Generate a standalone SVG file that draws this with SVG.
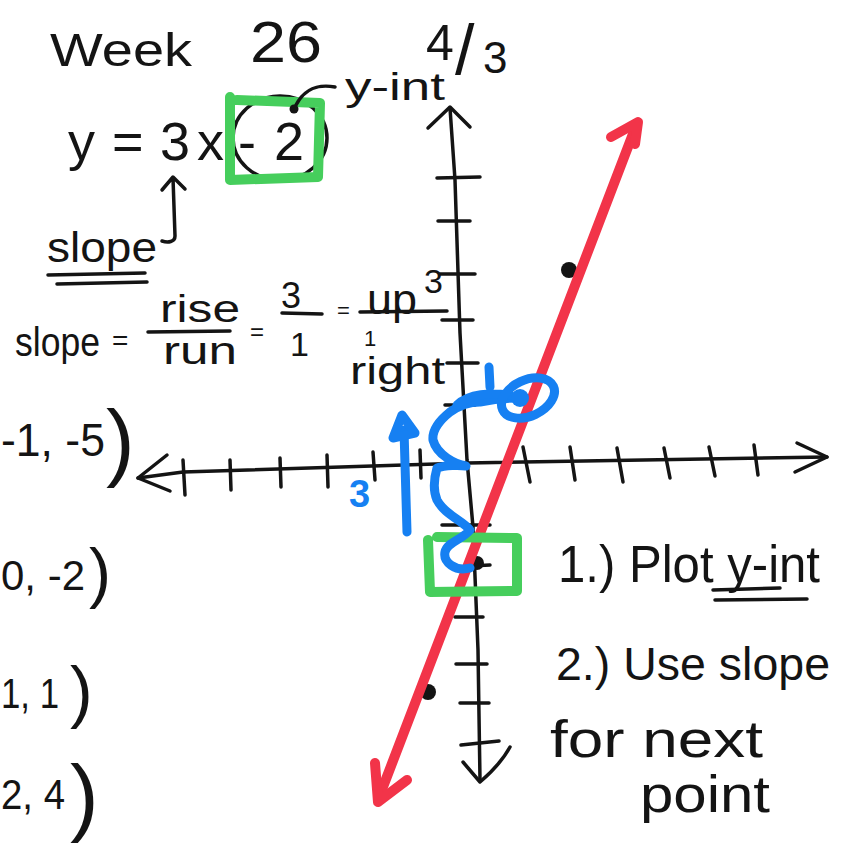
<svg xmlns="http://www.w3.org/2000/svg" width="851" height="846" viewBox="0 0 851 846">
<style>
.ink{stroke:#141414;stroke-width:3.5;fill:none;stroke-linecap:round;stroke-linejoin:round}
.red{stroke:#F23449;stroke-width:10;fill:none;stroke-linecap:round;stroke-linejoin:round}
.green{stroke:#46CE5C;stroke-width:10;fill:none;stroke-linecap:round;stroke-linejoin:round}
.blue{stroke:#1680F2;stroke-width:9;fill:none;stroke-linecap:round;stroke-linejoin:round}
text{font-family:"Liberation Sans",Arial,sans-serif;fill:#141414}
.dot{fill:#141414}
</style>
<rect width="851" height="846" fill="#ffffff"/>

<g id="title">
<text x="50" y="66" font-size="46" textLength="142" lengthAdjust="spacingAndGlyphs">Week</text>
<text x="250" y="62" font-size="58" textLength="72" lengthAdjust="spacingAndGlyphs">26</text>
<text font-size="50"><tspan x="426" y="60">4</tspan><tspan x="455" y="74" font-size="70">/</tspan><tspan x="483" y="73" font-size="44">3</tspan></text>
</g>

<g id="equation">
<ellipse cx="280" cy="138" rx="47" ry="42" class="ink"/>
<text font-size="54"><tspan x="68" y="160">y </tspan><tspan x="112" y="160">= </tspan><tspan x="160" y="160">3</tspan><tspan x="197" y="160">x</tspan><tspan x="238" y="160">-</tspan><tspan x="274" y="160">2</tspan></text>
<path d="M230 97 L230 180 L318 177 L320 103 L237 100" class="green"/>
<text x="345" y="100" font-size="38" textLength="100" lengthAdjust="spacingAndGlyphs">y-int</text>
<path d="M335 87 C318 84 305 88 296 105" class="ink"/>
<circle cx="294" cy="109" r="4.5" class="dot"/>
</g>

<g id="slope-label">
<path d="M162 190 L173 177 L185 189 M173 178 L175 236 C175 242 168 243 162 241" class="ink"/>
<text x="47" y="262" font-size="42" textLength="110" lengthAdjust="spacingAndGlyphs">slope</text>
<path d="M48 275 L145 273 M57 284 L147 282" class="ink" stroke-width="3"/>
</g>

<g id="slope-formula">
<text x="15" y="356" font-size="40" textLength="85" lengthAdjust="spacingAndGlyphs">slope</text>
<text x="112" y="350" font-size="28">=</text>
<text x="160" y="322" font-size="38" textLength="80" lengthAdjust="spacingAndGlyphs">rise</text>
<path d="M148 332 L230 331" class="ink"/>
<text x="163" y="364" font-size="38" textLength="74" lengthAdjust="spacingAndGlyphs">run</text>
<text x="250" y="340" font-size="24">=</text>
<text x="281" y="308" font-size="36">3</text>
<path d="M282 313 L322 314" class="ink"/>
<text x="290" y="356" font-size="34">1</text>
<text x="337" y="318" font-size="22">=</text>
<text x="367" y="314" font-size="42" textLength="50" lengthAdjust="spacingAndGlyphs">up</text>
<text x="424" y="293" font-size="34">3</text>
<path d="M360 312 L447 311" class="ink"/>
<text x="364" y="346" font-size="22">1</text>
<text x="350" y="384" font-size="38" textLength="95" lengthAdjust="spacingAndGlyphs">right</text>
</g>

<g id="points-list">
<text x="1" y="456" font-size="46" textLength="104" lengthAdjust="spacingAndGlyphs">-1, -5</text>
<text x="106" y="470" font-size="86">)</text>
<text x="1" y="590" font-size="42" textLength="84" lengthAdjust="spacingAndGlyphs">0, -2</text>
<text x="89" y="595" font-size="66">)</text>
<text x="1" y="708" font-size="42" textLength="58" lengthAdjust="spacingAndGlyphs">1, 1</text>
<text x="70" y="715" font-size="68">)</text>
<text x="1" y="809" font-size="42" textLength="64" lengthAdjust="spacingAndGlyphs">2, 4</text>
<text x="70" y="825" font-size="86">)</text>
</g>

<g id="axes">
<path d="M450 108 L455 180 L460 333 L467 460 L473 527 L478 650 L480 780" class="ink"/>
<path d="M428 128 L450 107 L470 127" class="ink"/>
<path d="M463 762 L480 782 Q500 765 510 747" class="ink"/>
<path d="M138 478 L183 472 L467 463 L827 457" class="ink"/>
<path d="M167 455 L138 478 L170 491" class="ink"/>
<path d="M797 443 L827 457 L795 472" class="ink"/>
<path d="M437 178 L480 177 M438 221 L470 221 M440 274 L475 274 M442 320 L473 320 M447 363 L478 363 M445 405 L475 405 M442 525 L490 525 M470 566 L490 565 M455 617 L483 617 M456 664 L487 664 M460 703 L489 703 M461 745 L499 741" class="ink"/>
<path d="M183 460 L185 495 M230 460 L231 490 M280 458 L281 487 M327 455 L328 487 M373 452 L375 480 M420 450 L421 478" class="ink"/>
<path d="M523 447 L530 482 M570 447 L575 480 M617 448 L623 482 M664 448 L670 478 M709 447 L715 476 M754 445 L758 475" class="ink"/>
</g>

<g id="plotted-points">
<circle cx="569" cy="270" r="8" class="dot"/>
<circle cx="428" cy="692" r="8" class="dot"/>
<circle cx="477" cy="563" r="7" class="dot"/>
<circle cx="520" cy="397" r="7" class="dot"/>
</g>

<g id="line">
<path d="M378 800 L636 126" class="red"/>
<path d="M611 137 L638 122 L635 144" class="red"/>
<path d="M375 763 L378 802 L407 780" class="red"/>
</g>

<g id="intercept-box">
<path d="M428 540 L430 592 L517 591 L517 538 L437 537" class="green"/>
</g>

<g id="slope-steps">
<path d="M470 568 C455 572 443 562 445 552 C447 542 462 540 470 530 C462 520 445 515 437 500 C432 488 435 475 437 468 C445 465 460 465 466 466 C455 464 437 455 433 440 C432 430 440 420 450 412 C460 405 470 402 480 402 C490 400 500 398 520 398" class="blue"/>
<path d="M457 405 C470 393 490 393 510 395 M489 367 L490 387" class="blue"/>
<ellipse cx="528" cy="398" rx="28" ry="18" transform="rotate(-25 528 398)" class="blue"/>
<circle cx="520" cy="398" r="9" fill="#1680F2"/>
<path d="M407 532 L404 430" class="blue"/>
<path d="M393 438 L402 415 L415 433 Z" class="blue" fill="#1680F2"/>
<text x="349" y="507" font-size="38" font-weight="bold" style="fill:#1680F2">3</text>
</g>

<g id="steps-notes">
<text x="558" y="582" font-size="52" textLength="262" lengthAdjust="spacingAndGlyphs">1.) Plot y-int</text>
<path d="M713 590 L780 588 M715 600 L807 599" class="ink" stroke-width="3"/>
<text x="556" y="680" font-size="47" textLength="274" lengthAdjust="spacingAndGlyphs">2.) Use slope</text>
<text x="550" y="757" font-size="52" textLength="213" lengthAdjust="spacingAndGlyphs">for next</text>
<text x="640" y="812" font-size="52" textLength="130" lengthAdjust="spacingAndGlyphs">point</text>
</g>
</svg>
